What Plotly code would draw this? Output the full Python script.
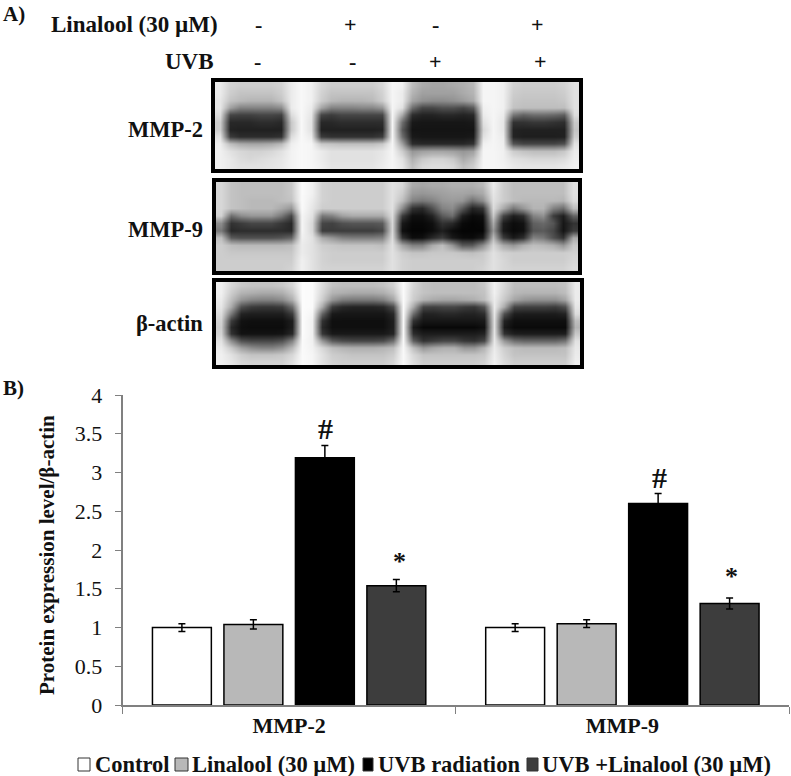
import plotly.graph_objects as go

W, H = 791, 776

categories = ["MMP-2", "MMP-9"]
control = [1.0, 1.0]
linalool = [1.04, 1.05]
uvb = [3.19, 2.6]
uvb_linalool = [1.54, 1.31]
control_err = [0.05, 0.05]
linalool_err = [0.06, 0.05]
uvb_err = [0.16, 0.13]
uvb_linalool_err = [0.08, 0.07]
y_ticks = [0, 0.5, 1, 1.5, 2, 2.5, 3, 3.5, 4]

linalool_signs = ["-", "+", "-", "+"]
uvb_signs = ["-", "-", "+", "+"]

blot_mmp2 = [
    [235,210,205,205,205,205,210,235,248,240,215,205,205,205,205,205,215,245,240,190,170,165,165,170,175,185,245,245,240,210,205,205,205,205,210,225],
    [235,205,195,195,195,195,205,235,248,240,210,195,195,195,195,195,210,245,235,180,160,160,160,160,170,180,245,245,240,205,200,200,200,200,205,225],
    [230,195,185,180,180,180,195,235,248,240,205,185,180,180,180,185,205,245,235,165,145,140,140,145,155,170,245,245,240,200,195,195,195,195,200,225],
    [230,160,130,130,130,130,140,235,248,235,165,130,130,130,135,135,150,245,225,110,70,70,80,80,70,90,240,245,240,195,190,190,190,190,190,225],
    [220,70,65,65,70,70,65,220,248,230,70,60,70,70,70,70,70,245,170,45,35,35,40,40,35,40,235,245,235,120,100,110,110,105,95,220],
    [205,40,40,40,45,45,40,200,248,225,40,40,45,45,45,45,45,245,110,25,22,22,22,22,22,25,225,245,230,50,50,55,55,50,45,200],
    [205,35,32,32,32,32,32,200,248,225,32,32,32,32,32,32,35,245,90,20,20,20,20,20,20,20,215,245,230,35,32,32,32,32,32,195],
    [225,60,45,45,45,45,50,220,248,235,60,50,50,50,50,50,60,245,110,25,22,22,22,22,22,25,225,245,235,35,30,30,30,30,32,205],
    [238,190,170,165,165,170,185,238,248,245,200,195,190,190,190,190,200,245,160,45,40,40,40,40,40,50,240,245,238,85,70,70,70,70,80,225],
    [240,225,215,210,210,215,225,242,248,245,235,225,225,225,225,225,230,245,205,150,160,165,165,160,150,160,245,245,240,205,195,190,190,190,200,235],
    [240,232,220,215,220,225,230,242,248,245,235,225,225,225,225,225,232,245,225,175,200,210,210,200,170,190,245,245,240,225,220,215,215,215,220,238],
    [240,232,225,225,225,228,232,242,248,245,238,228,228,228,228,228,235,245,230,190,215,220,220,215,190,205,245,245,242,232,228,228,228,228,232,240],
]
blot_mmp9 = [
    [215,195,190,190,190,190,190,200,250,240,210,205,205,205,205,205,205,225,215,170,165,170,170,175,175,175,185,235,205,190,190,190,190,190,190,225],
    [215,195,190,190,190,190,190,200,250,240,210,205,205,205,205,205,205,225,205,155,150,155,160,165,165,160,170,230,205,190,190,190,190,190,190,225],
    [215,195,190,185,185,185,190,195,250,235,210,205,205,205,205,205,205,225,190,130,120,130,150,155,150,110,140,225,205,190,185,185,185,185,180,220],
    [215,195,190,185,185,185,170,150,250,230,205,205,205,205,205,205,205,225,140,50,40,80,130,140,90,35,50,220,170,120,150,180,180,130,110,190],
    [210,110,140,150,150,150,120,70,245,225,120,130,160,170,170,170,170,220,60,15,15,35,90,110,30,10,15,200,70,30,45,130,145,60,30,100],
    [140,50,60,70,70,70,55,40,245,215,70,65,80,85,85,85,90,215,25,8,8,15,50,40,10,5,8,170,30,12,18,95,105,85,22,50],
    [120,40,45,45,45,45,45,40,245,215,60,60,60,60,60,60,70,215,15,5,5,12,30,12,5,5,5,150,25,10,15,85,90,70,20,60],
    [190,90,80,80,80,80,85,100,240,225,170,150,130,125,125,125,130,220,50,12,15,40,60,25,12,10,25,185,60,25,45,130,120,80,50,170],
    [205,190,185,185,185,185,185,190,235,225,205,200,195,195,195,195,190,225,165,130,130,170,190,150,90,90,140,215,170,150,175,190,185,175,150,200],
    [205,200,200,200,200,200,200,200,235,225,210,205,205,205,205,205,205,225,205,195,195,200,200,200,195,190,200,225,210,205,205,205,205,205,205,210],
    [205,205,205,205,205,205,205,205,240,225,210,205,205,205,205,205,205,225,210,205,205,205,205,205,205,205,205,225,215,205,205,205,205,205,205,215],
    [205,205,205,205,205,205,205,210,240,225,212,210,210,210,210,210,210,225,210,205,205,205,205,205,205,205,210,225,215,210,210,210,210,210,210,220],
]
blot_actin = [
    [240,215,200,195,195,195,200,215,252,250,220,195,190,190,190,190,195,210,250,215,195,190,190,190,190,190,200,240,215,190,190,190,190,190,195,235],
    [240,205,180,175,170,170,175,200,252,250,215,180,175,170,170,170,175,195,250,210,195,190,190,190,190,190,195,240,210,185,180,180,180,180,190,235],
    [235,190,150,135,130,130,140,175,252,250,205,150,125,120,120,120,130,165,250,205,180,170,165,165,170,175,190,235,200,165,150,145,145,145,165,235],
    [230,170,80,60,55,55,60,110,252,250,170,60,40,35,35,35,40,75,250,170,70,65,70,70,60,55,85,235,170,70,65,65,65,60,80,230],
    [220,120,35,30,30,30,30,60,252,245,100,25,22,22,22,22,22,40,250,110,35,35,40,40,35,35,45,230,80,30,28,28,28,28,35,220],
    [210,60,18,15,15,15,15,30,252,240,50,15,15,15,15,15,15,30,248,50,22,22,22,22,22,22,25,225,35,15,15,15,15,15,15,190],
    [205,40,15,12,12,12,12,30,252,240,40,15,15,15,15,15,15,30,248,25,8,8,8,8,8,8,15,225,25,10,10,10,10,10,10,180],
    [210,50,18,18,18,18,20,40,252,240,55,25,25,25,25,25,25,35,248,45,28,28,28,28,28,28,35,228,50,30,28,28,28,28,30,200],
    [225,140,80,70,70,70,80,130,250,240,150,90,75,70,70,70,75,110,248,95,50,60,70,70,55,50,70,232,150,110,100,100,100,100,115,225],
    [235,200,160,140,130,130,145,185,250,242,215,190,180,175,175,175,180,190,248,190,150,165,175,175,150,150,180,235,205,190,185,185,185,185,190,232],
    [240,225,205,195,195,195,200,215,250,245,225,205,200,195,195,195,195,205,248,215,195,195,195,195,195,195,200,238,212,195,195,195,195,195,195,235],
    [240,230,215,210,210,210,210,225,250,245,225,210,205,205,205,205,205,215,248,222,205,205,205,205,205,205,210,240,218,205,205,205,205,205,205,238],
]

FONT = "Liberation Serif"
INK = "#111111"
AXIS_GREY = "#808080"


def px(x):
    return x / W


def py(y):
    return 1 - y / H


def label(x, y, text, size=20, anchor="center", angle=0):
    fig.add_annotation(
        x=px(x), y=py(y), xref="paper", yref="paper", text="<b>" + text + "</b>",
        showarrow=False, xanchor=anchor, yanchor="middle", textangle=angle, borderpad=0, borderwidth=0,
        font=dict(family=FONT, size=size, color=INK),
    )


fig = go.Figure()

series = [
    ("Control", control, control_err, "#ffffff"),
    ("Linalool (30 µM)", linalool, linalool_err, "#b8b8b8"),
    ("UVB radiation", uvb, uvb_err, "#000000"),
    ("UVB +Linalool (30 µM)", uvb_linalool, uvb_linalool_err, "#3d3d3d"),
]
for name, vals, errs, color in series:
    fig.add_trace(go.Bar(
        name=name, x=categories, y=vals, marker=dict(color=color, line=dict(color="#000000", width=1.5)),
        error_y=dict(type="data", array=errs, color="#000000", thickness=1.5, width=3.5),
    ))

# blots, one heatmap per panel on their own axes
blots = [
    (blot_mmp2, (215, 579), (82, 169), "2"),
    (blot_mmp9, (216, 578), (182, 271), "3"),
    (blot_actin, (216, 580), (282, 365), "4"),
]
for z, xs, ys, n in blots:
    fig.add_trace(go.Heatmap(
        z=z, xaxis="x" + n, yaxis="y" + n, colorscale=[[0, "#000000"], [1, "#ffffff"]], zmin=0, zmax=255,
        showscale=False, zsmooth="best", hoverinfo="skip",
    ))
    frame = dict(showticklabels=False, ticks="", showgrid=False, zeroline=False, automargin=False,
                 showline=True, mirror=True, linecolor="#000000", linewidth=3.5)
    fig.update_layout({
        "xaxis" + n: dict(domain=[px(xs[0]), px(xs[1])], anchor="y" + n, **frame),
        "yaxis" + n: dict(domain=[py(ys[1]), py(ys[0])], anchor="x" + n, autorange="reversed", **frame),
    })

fig.update_layout(
    width=W, height=H, margin=dict(l=0, r=0, t=0, b=0),
    paper_bgcolor="white", plot_bgcolor="white",
    showlegend=False, barmode="group", bargap=0.142, bargroupgap=0.176,
    xaxis=dict(
        domain=[px(122.5), px(789)], anchor="y", tickson="boundaries", ticks="outside", ticklen=7, automargin=False,
        tickcolor=AXIS_GREY, showline=True, linecolor=AXIS_GREY, linewidth=1.5, showgrid=False,
        tickfont=dict(family=FONT, size=22, color=INK), tickprefix="<b>", ticksuffix="</b>",
    ),
    yaxis=dict(
        domain=[py(705), py(395)], anchor="x", range=[0, 4], tickvals=y_ticks, ticks="outside", ticklen=6,
        ticklabelstandoff=8, automargin=False,
        tickcolor=AXIS_GREY, showline=True, linecolor=AXIS_GREY, linewidth=1.5, showgrid=False, zeroline=False,
        tickfont=dict(family=FONT, size=22, color=INK), tickprefix="<b>", ticksuffix="</b>",
    ),
)

# panel letters and lane header
label(3, 14, "A)", 21, "left")
label(3, 388, "B)", 21, "left")
label(218, 25, "Linalool (30 µM)", 23, "right")
label(214, 62, "UVB", 23, "right")
for x, s in zip([258, 350, 435, 537], linalool_signs):
    label(x, 25, s, 22)
for x, s in zip([257, 352, 436, 540], uvb_signs):
    label(x, 62, s, 22)

label(203, 130, "MMP-2", 22.5, "right")
label(203, 229, "MMP-9", 22.5, "right")
label(203, 323, "β-actin", 22.5, "right")

label(47, 555, "Protein expression level/β-actin", 21, angle=-90)

# significance marks
label(325, 428, "#", 30)
label(659, 477, "#", 30)
label(400, 561, "*", 26)
label(731, 576, "*", 26)

# legend row
legend_row = [(78, 90, 95), (175, 188, 192), (363, 373, 378), (527, 538, 542)]
for (x0, x1, tx), (name, _, _, color) in zip(legend_row, series):
    fig.add_shape(type="rect", xref="paper", yref="paper", x0=px(x0), x1=px(x1), y0=py(771), y1=py(758),
                  fillcolor=color, line=dict(color="#333333", width=1))
    label(tx, 764, name, 22.5, "left")

fig.write_html("out.html", config=dict(displayModeBar=False), post_script="document.body.style.margin='0';")
